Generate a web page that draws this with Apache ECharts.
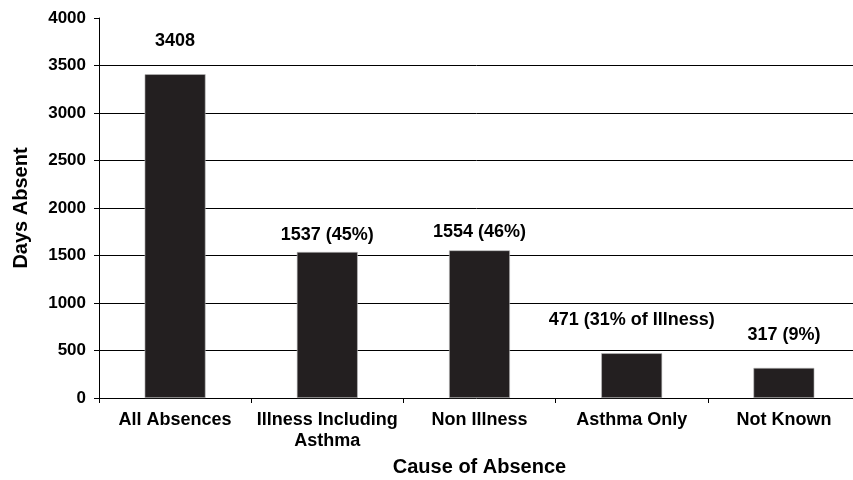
<!DOCTYPE html>
<html>
<head>
<meta charset="utf-8">
<script src="https://cdn.jsdelivr.net/npm/echarts@6/dist/echarts.min.js"></script>
<style>
  html, body { margin: 0; padding: 0; background: #fff; }
  #chart { width: 853px; height: 480px; }
</style>
</head>
<body>
<div id="chart"></div>
<script>
// Absence days by cause
const categories = ['All Absences', 'Illness Including\nAsthma', 'Non Illness', 'Asthma Only', 'Not Known'];
const daysAbsent = [3408, 1537, 1554, 471, 317];
const valueLabels = ['3408', '1537 (45%)', '1554 (46%)', '471 (31% of Illness)', '317 (9%)'];
const labelGaps = [24, 8, 9, 24, 24];
const yTicks = [0, 500, 1000, 1500, 2000, 2500, 3000, 3500, 4000];

const FONT = 'Liberation Sans, Arial, sans-serif';
const chart = echarts.init(document.getElementById('chart'), null, { renderer: 'canvas' });

chart.setOption({
  animation: false,
  backgroundColor: '#fff',
  grid: { left: 99, right: -7, top: 18, bottom: 82, containLabel: false, outerBoundsMode: 'none' },
  xAxis: {
    type: 'category',
    data: categories,
    name: 'Cause of Absence',
    nameLocation: 'middle',
    nameGap: 59,
    nameTextStyle: { fontFamily: FONT, fontWeight: 'bold', fontSize: 20, color: '#000' },
    axisLine: { lineStyle: { color: '#000', width: 1 } },
    axisTick: { show: true, alignWithLabel: false, length: 5, lineStyle: { color: '#000' } },
    axisLabel: { fontFamily: FONT, fontWeight: 'bold', fontSize: 18, color: '#000', margin: 12, lineHeight: 21, interval: 0 },
    splitLine: { show: false }
  },
  yAxis: {
    type: 'value',
    min: yTicks[0],
    max: yTicks[yTicks.length - 1],
    interval: yTicks[1] - yTicks[0],
    name: 'Days Absent',
    nameLocation: 'middle',
    nameGap: 68,
    nameTextStyle: { fontFamily: FONT, fontWeight: 'bold', fontSize: 20, color: '#000' },
    axisLine: { show: true, lineStyle: { color: '#000', width: 1 } },
    axisTick: { show: true, length: 5, lineStyle: { color: '#000' } },
    axisLabel: {
      fontFamily: FONT, fontWeight: 'bold', fontSize: 17, color: '#000', margin: 13,
      formatter: (v) => String(v)
    },
    splitLine: {
      show: true,
      lineStyle: { color: '#000', width: 1 },
      showMinLine: false,
      showMaxLine: false
    }
  },
  series: [{
    type: 'bar',
    barWidth: '40%',
    data: daysAbsent.map((v, i) => ({
      value: v,
      label: { formatter: valueLabels[i], distance: labelGaps[i] }
    })),
    itemStyle: { color: '#231f20', borderColor: '#bdbdbd', borderWidth: 0.6 },
    label: {
      show: true,
      position: 'top',
      fontFamily: FONT,
      fontWeight: 'bold',
      fontSize: 18,
      color: '#000'
    }
  }]
});
</script>
</body>
</html>
